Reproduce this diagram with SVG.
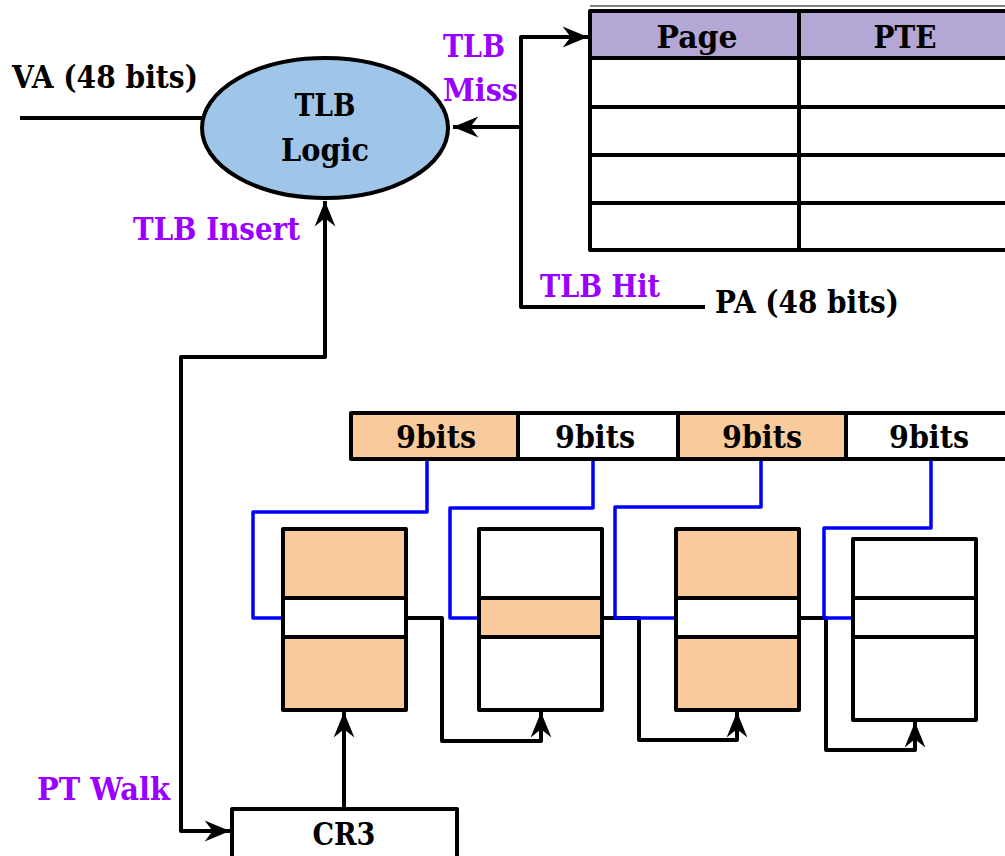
<svg xmlns="http://www.w3.org/2000/svg" width="1005" height="856" viewBox="0 0 1005 856">
<style>
text{font-family:"DejaVu Serif","Liberation Serif",serif;font-size:31px;font-weight:bold;fill:#000}
.p{fill:#9900ff}
.c{text-anchor:middle}
.k{fill:none;stroke:#000;stroke-width:4;stroke-linejoin:round}
.b{fill:none;stroke:#0000ff;stroke-width:3.5;stroke-linejoin:round}
.box{stroke:#000;stroke-width:4;stroke-linejoin:round}
.o{fill:#f9cb9c}
.w{fill:#fff}
</style>
<defs>
<marker id="a" markerUnits="userSpaceOnUse" markerWidth="30" markerHeight="30" viewBox="-24 -12 26 24" refX="0" refY="0" orient="auto">
<path d="M0,0 L-22,-9 L-15,0 L-22,9 Z" fill="#000"/>
</marker>
</defs>
<rect width="1005" height="856" fill="#fff"/>

<g id="connectors">
<line class="k" x1="20" y1="118" x2="202" y2="118"/>
<path class="k" d="M521,127 L453,127" marker-end="url(#a)"/>
<path class="k" d="M521,127 L521,37 L588,37" marker-end="url(#a)"/>
<path class="k" d="M521,127 L521,307 L705,307"/>
<path class="k" d="M232,831 L181,831 L181,357 L325,357 L325,201" marker-end="url(#a)"/>
<path class="k" d="M181,831 L230,831" marker-end="url(#a)"/>
<path class="k" d="M344,809 L344,712" marker-end="url(#a)"/>
<path class="k" d="M406,618 L442,618 L442,741 L541,741 L541,712" marker-end="url(#a)"/>
<path class="k" d="M602,618 L639,618 L639,740 L737,740 L737,712" marker-end="url(#a)"/>
<path class="k" d="M799,618 L826,618 L826,750 L915,750 L915,722" marker-end="url(#a)"/>
<path class="b" d="M427,459 L427,512 L253,512 L253,618 L283,618"/>
<path class="b" d="M593,459 L593,508 L450,508 L450,618 L479,618"/>
<path class="b" d="M761,459 L761,507 L615,507 L615,618 L676,618"/>
<path class="b" d="M931,459 L931,528 L824,528 L824,618 L853,618"/>
</g>

<g id="va-label"><text x="12" y="88" textLength="186" lengthAdjust="spacingAndGlyphs">VA (48 bits)</text></g>

<g id="tlb-logic">
<ellipse cx="325" cy="128" rx="123" ry="70" fill="#9fc5e8" stroke="#000" stroke-width="4"/>
<text class="c" x="325" y="116" textLength="61" lengthAdjust="spacingAndGlyphs">TLB</text>
<text class="c" x="325" y="161" textLength="88" lengthAdjust="spacingAndGlyphs">Logic</text>
</g>

<g id="tlb-miss-label"><text class="p" x="443" y="57" textLength="62" lengthAdjust="spacingAndGlyphs">TLB</text><text class="p" x="443" y="101" textLength="75" lengthAdjust="spacingAndGlyphs">Miss</text></g>
<g id="tlb-insert-label"><text class="p" x="133" y="240" textLength="167" lengthAdjust="spacingAndGlyphs">TLB Insert</text></g>
<g id="tlb-hit-label"><text class="p" x="540" y="297" textLength="120" lengthAdjust="spacingAndGlyphs">TLB Hit</text></g>
<g id="pa-label"><text x="715" y="313" textLength="184" lengthAdjust="spacingAndGlyphs">PA (48 bits)</text></g>
<g id="pt-walk-label"><text class="p" x="37" y="800" textLength="133" lengthAdjust="spacingAndGlyphs">PT Walk</text></g>

<g id="tlb-table">
<rect x="590" y="11" width="420" height="47" fill="#b4a7d6"/>
<line x1="590" y1="6" x2="1005" y2="6" stroke="#555" stroke-width="1.5"/>
<path class="k" d="M1010,11 L590,11 L590,250 L1010,250 M590,58 L1010,58 M590,107 L1010,107 M590,155 L1010,155 M590,203 L1010,203 M799,11 L799,250"/>
<text class="c" x="697" y="48" textLength="81" lengthAdjust="spacingAndGlyphs">Page</text>
<text class="c" x="905" y="48" textLength="63" lengthAdjust="spacingAndGlyphs">PTE</text>
</g>

<g id="va-bits">
<rect class="box o" x="351" y="413" width="167" height="46"/>
<rect class="box w" x="518" y="413" width="160" height="46"/>
<rect class="box o" x="678" y="413" width="168" height="46"/>
<rect class="box w" x="846" y="413" width="165" height="46"/>
<text class="c" x="436" y="448" textLength="80" lengthAdjust="spacingAndGlyphs">9bits</text>
<text class="c" x="595" y="448" textLength="80" lengthAdjust="spacingAndGlyphs">9bits</text>
<text class="c" x="762" y="448" textLength="80" lengthAdjust="spacingAndGlyphs">9bits</text>
<text class="c" x="929" y="448" textLength="80" lengthAdjust="spacingAndGlyphs">9bits</text>
</g>

<g id="pt-level1">
<rect class="box o" x="283" y="529" width="123" height="69"/>
<rect class="box w" x="283" y="598" width="123" height="39"/>
<rect class="box o" x="283" y="637" width="123" height="73"/>
</g>
<g id="pt-level2">
<rect class="box w" x="479" y="529" width="123" height="69"/>
<rect class="box o" x="479" y="598" width="123" height="39"/>
<rect class="box w" x="479" y="637" width="123" height="73"/>
</g>
<g id="pt-level3">
<rect class="box o" x="676" y="529" width="123" height="69"/>
<rect class="box w" x="676" y="598" width="123" height="39"/>
<rect class="box o" x="676" y="637" width="123" height="73"/>
</g>
<g id="pt-level4">
<rect class="box w" x="853" y="539" width="123" height="59"/>
<rect class="box w" x="853" y="598" width="123" height="39"/>
<rect class="box w" x="853" y="637" width="123" height="83"/>
</g>

<g id="cr3">
<rect class="box w" x="232" y="809" width="225" height="52"/>
<text class="c" x="344" y="845" textLength="63" lengthAdjust="spacingAndGlyphs">CR3</text>
</g>
</svg>
